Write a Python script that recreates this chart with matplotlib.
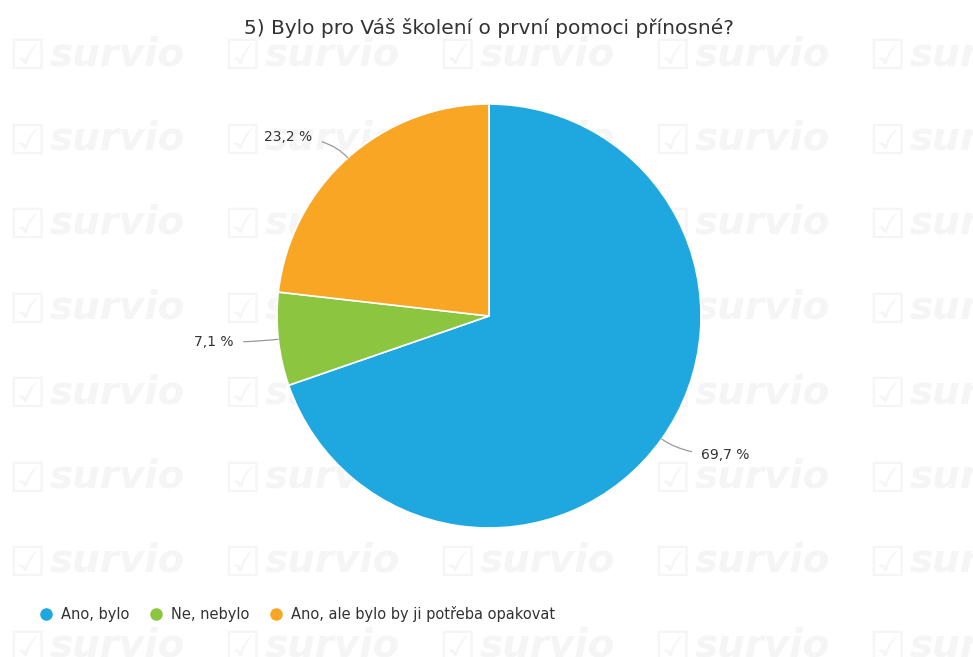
import numpy as np
import matplotlib.pyplot as plt
from matplotlib.lines import Line2D

# survey answers, share of respondents in %
categories = ['Ano, bylo', 'Ne, nebylo', 'Ano, ale bylo by ji potřeba opakovat']
shares = [69.7, 7.1, 23.2]
labels = ['69,7 %', '7,1 %', '23,2 %']
colors = ['#1fa8e0', '#8cc540', '#f8a624']
title = '5) Bylo pro Váš školení o první pomoci přínosné?'

fig = plt.figure(figsize=(9.73, 6.57), dpi=100)
fig.patch.set_facecolor('white')

# faint "survio" watermark grid behind everything, in a full-figure axes (pixel coords)
bg = fig.add_axes([0, 0, 1, 1], zorder=0)
bg.set_xlim(0, 973)
bg.set_ylim(657, 0)
bg.axis('off')
for row in range(8):
    for col in range(5):
        x = 8 + col * 215
        y = 57 + row * 84.5
        bg.text(x, y, '\u2611', fontsize=30, color='#f5f5f5', va='center', ha='left', clip_on=True)
        bg.text(x + 42, y - 3, 'survio', fontsize=28, color='#f5f5f5', fontstyle='italic',
                fontweight='bold', va='center', ha='left', clip_on=True)

fig.text(489 / 973, 1 - 28 / 657, title, fontsize=14.5, color='#333333', ha='center', va='center')

ax = fig.add_axes([277 / 973, 1 - 528 / 657, 424 / 973, 424 / 657], zorder=2)
ax.set_facecolor('none')
wedges, _ = ax.pie(shares, colors=colors, startangle=90, counterclock=False,
                   wedgeprops=dict(edgecolor='white', linewidth=1.2))
ax.set_xlim(-1, 1)
ax.set_ylim(-1, 1)
ax.set_aspect('equal')
ax.axis('off')

for w, lab in zip(wedges, labels):
    mid = (w.theta1 + w.theta2) / 2
    rad = np.deg2rad(mid)
    edge = (np.cos(rad), np.sin(rad))
    right = np.cos(rad) > 0
    tx = 1.13 * np.cos(rad) + (0.08 if right else -0.08)
    ty = 1.13 * np.sin(rad)
    ax.annotate(lab, xy=edge, xytext=(tx, ty), ha='left' if right else 'right', va='center',
                fontsize=10, color='#333333', annotation_clip=False,
                arrowprops=dict(arrowstyle='-', color='#999999', lw=0.9, shrinkA=5, shrinkB=0,
                                connectionstyle=f'angle3,angleA=0,angleB={mid}'))

handles = [Line2D([], [], marker='o', linestyle='none', markersize=8, markerfacecolor=c,
                  markeredgecolor=c) for c in colors]
fig.legend(handles, categories, loc='center left', bbox_to_anchor=(18 / 973, 1 - 614 / 657),
           ncol=3, frameon=False, fontsize=10.5, handletextpad=0.05, columnspacing=0.8,
           labelcolor='#333333')

fig.savefig('out.png', dpi=100, facecolor='white')
